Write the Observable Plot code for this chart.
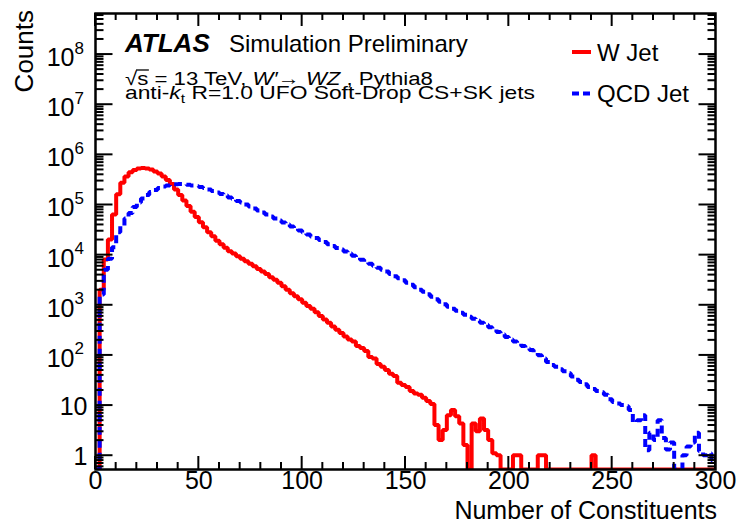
<!DOCTYPE html>
<html><head><meta charset="utf-8">
<script src="https://cdn.jsdelivr.net/npm/d3@7"></script>
<script src="https://cdn.jsdelivr.net/npm/@observablehq/plot@0.6"></script>
<style>
body{margin:0;background:#fff;}
#chart svg{font-family:"Liberation Sans",Arial,sans-serif;}
</style>
</head><body><div id="chart"></div>
<script>
// Histogram bins: width 2, from 0 to 300 (number of constituents)
const binWidth = 2;
const xStart = 0;
const xEnd = 300;

// W Jet counts per bin (bins [0,2), [2,4), ... [298,300))
const wJet = [
  0, 2000, 8000, 20000, 63000, 160000, 270000, 360000, 440000, 490000,
  525000, 537000, 525000, 500000, 457000, 417000, 363000, 309000, 257000, 200000,
  155000, 120000, 93000, 72000, 56000, 44000, 35000, 28000, 23400, 19000,
  16200, 13800, 11700, 10500, 9300, 8300, 7400, 6600, 5900, 5200,
  4600, 4100, 3550, 3160, 2750, 2350, 2000, 1700, 1480, 1290,
  1100, 950, 830, 710, 600, 510, 440, 370, 316, 275,
  234, 204, 185, 151, 138, 120, 91, 85, 66, 58,
  50, 42, 38, 28, 25, 23, 19, 17, 16, 14,
  12, 10.5, 4, 2, 3.2, 6.3, 8, 6, 4.3, 1.6,
  0, 4.3, 3, 5.4, 3.2, 2, 1.1, 1, 0, 0,
  0, 1, 1, 0, 0, 0, 0, 1, 1, 0,
  0, 0, 0, 0, 0, 0, 0, 0, 0, 0,
  1, 0, 0, 0, 0, 0, 0, 0, 0, 0,
  0, 0, 0, 0, 0, 0, 0, 0, 0, 0,
  0, 0, 0, 0, 0, 0, 0, 0, 0, 0
];

// QCD Jet counts per bin
const qcdJet = [
  0, 1600, 5000, 8300, 14000, 28000, 38000, 52500, 68000, 89000,
  110000, 132000, 155000, 178000, 195000, 214000, 229000, 240000, 248000, 254000,
  257000, 254000, 248000, 240000, 232000, 224000, 214000, 200000, 186000, 174000,
  162000, 151000, 138000, 129000, 117000, 110000, 100000, 91000, 83000, 76000,
  69000, 63000, 57500, 52500, 48000, 43600, 39800, 36300, 33100, 30200,
  27500, 25100, 22900, 21400, 19500, 17800, 16200, 14800, 13500, 12600,
  11500, 10500, 9500, 8700, 7900, 7200, 6600, 6000, 5500, 5000,
  4600, 4100, 3700, 3400, 3100, 2750, 2500, 2240, 2000, 1820,
  1620, 1450, 1290, 1150, 1020, 910, 830, 760, 690, 630,
  575, 525, 480, 436, 398, 355, 324, 288, 257, 229,
  204, 186, 170, 151, 135, 126, 112, 98, 85, 72,
  63, 58, 52, 47, 43, 37, 32, 29, 26, 23,
  21, 19, 18, 16, 13, 11.5, 10.7, 10, 9.5, 8,
  4.5, 5, 6.3, 1.25, 2.8, 2, 5, 2.2, 1.3, 1.8,
  0, 0, 1, 1.5, 1.8, 2.8, 1.2, 1, 1.1, 0.8
];

const seriesNames = ["W Jet", "QCD Jet"];
const xMajorTicks = [0, 50, 100, 150, 200, 250, 300];
const xMinorTicks = [10,20,30,40,60,70,80,90,110,120,130,140,160,170,180,190,210,220,230,240,260,270,280,290];
const yPlainTicks = [1, 10];
const yPlainLabels = ["1", "10"];
const yPowTicks = [1e2, 1e3, 1e4, 1e5, 1e6, 1e7, 1e8];
const yPowExps = ["2", "3", "4", "5", "6", "7", "8"];
const yDomain = [0.519, 6.44e8];
const xTitle = "Number of Constituents";
const yTitle = "Counts";

(function () {
function stepRows(arr) {
  const rows = arr.map((v, i) => ({x: xStart + i * binWidth, v}));
  rows.push({x: xEnd, v: arr[arr.length - 1]});
  return rows;
}
const wRows = stepRows(wJet);
const qRows = stepRows(qcdJet);
const yMajor = yPlainTicks.concat(yPowTicks);
const yMinor = [];
for (let e = -1; e <= 8; e++) for (let k = 2; k <= 9; k++) {
  const v = k * Math.pow(10, e);
  if (v > yDomain[0] && v < yDomain[1]) yMinor.push(v);
}
const W = 740, H = 525, mL = 95, mR = 25, mT = 13, mB = 56;
const fw = W - mL - mR;
const yOf = d => Math.max(d.v, yDomain[0]);
// inward tick lengths (17px major, 8px minor) expressed in x data units
const xPerPx = (xEnd - xStart) / fw;
const tickRows = yMajor.map(v => ({v, len: 17})).concat(yMinor.map(v => ({v, len: 8})));

const plot = Plot.plot({
  width: W, height: H,
  marginLeft: mL, marginRight: mR, marginTop: mT, marginBottom: mB,
  style: {fontFamily: "Liberation Sans, Arial, sans-serif", fontSize: "24px", background: "white", color: "black"},
  x: {domain: [xStart, xEnd], axis: null},
  y: {type: "log", domain: yDomain, axis: null},
  marks: [
    Plot.line(wRows, {x: "x", y: yOf, curve: "step-after", stroke: "#ff0000", strokeWidth: 4,
      strokeLinejoin: "miter", strokeLinecap: "butt", clip: true}),
    Plot.line(qRows, {x: "x", y: yOf, curve: "step-after", stroke: "#0000ff", strokeWidth: 4,
      strokeDasharray: "8,5", strokeLinejoin: "miter", strokeLinecap: "butt", clip: true}),
    Plot.link(tickRows, {x1: xStart, x2: d => xStart + d.len * xPerPx, y1: "v", y2: "v", stroke: "black", strokeWidth: 2}),
    Plot.link(tickRows, {x1: xEnd, x2: d => xEnd - d.len * xPerPx, y1: "v", y2: "v", stroke: "black", strokeWidth: 2}),
    Plot.frame({stroke: "black", strokeWidth: 2.5}),
    Plot.text(xMajorTicks, {x: d => d, text: d => String(d), frameAnchor: "bottom", dy: 19, fontSize: 25}),
    Plot.text(yPlainTicks, {y: d => d, text: (d, i) => yPlainLabels[i], frameAnchor: "left", textAnchor: "end", dx: -8, dy: 2, fontSize: 25}),
    Plot.text(yPowTicks, {y: d => d, text: () => "10", frameAnchor: "left", textAnchor: "end", dx: -21, dy: 4, fontSize: 25}),
    Plot.text(yPowTicks, {y: d => d, text: (d, i) => yPowExps[i], frameAnchor: "left", textAnchor: "start", dx: -21, dy: -6, fontSize: 17})
  ]
});
document.getElementById("chart").appendChild(plot);

// x ticks (bottom & top, inward), positioned with Plot's x scale
const svg = d3.select(plot);
const fTop = mT, fBottom = H - mB;
let xPix = null;
try {
  const xs = plot.scale("x");
  if (xs && typeof xs.apply === "function" && Number.isFinite(xs.apply(50))) xPix = v => xs.apply(v);
} catch (e) {}
if (!xPix) xPix = d3.scaleLinear([xStart, xEnd], [mL, W - mR]);
const tg = svg.append("g");
function seg(x1, y1, x2, y2) {
  tg.append("line").attr("x1", x1).attr("y1", y1).attr("x2", x2).attr("y2", y2)
    .attr("stroke", "#000000").attr("stroke-width", 2);
}
function vTick(v, len) {
  const x = xPix(v);
  seg(x, fBottom, x, fBottom - len);
  seg(x, fTop, x, fTop + len);
}
xMajorTicks.forEach(v => vTick(v, 13));
xMinorTicks.forEach(v => vTick(v, 7));

// ---- annotations ----
const g = svg.append("g").attr("fill", "black").attr("text-anchor", "start")
  .style("font-family", "Liberation Sans, Arial, sans-serif");

g.append("text").attr("transform", "translate(33,10) rotate(-90)")
  .attr("text-anchor", "end").attr("font-size", 26).text(yTitle);
g.append("text").attr("x", 717).attr("y", 519)
  .attr("text-anchor", "end").attr("font-size", 25).text(xTitle);

g.append("text").attr("x", 125).attr("y", 52).attr("font-size", 26)
  .attr("font-weight", "bold").attr("font-style", "italic").text("ATLAS");
g.append("text").attr("x", 229).attr("y", 52).attr("font-size", 24).text("Simulation Preliminary");

const g2 = g.append("g");
const l2 = g2.append("text").attr("x", 0).attr("y", 0).attr("font-size", 19);
l2.append("tspan").text("\u221A");
l2.append("tspan").text("s");
l2.append("tspan").text(" = 13 TeV, ");
l2.append("tspan").attr("font-style", "italic").text("W\u2032");
l2.append("tspan").text("\u2192 ");
l2.append("tspan").attr("font-style", "italic").text("WZ");
l2.append("tspan").text(" , Pythia8");
let sx2 = 1;
try {
  const n = l2.node();
  const w = n.getComputedTextLength();
  if (w > 0) sx2 = 308 / w;
  const a = n.getSubStringLength(0, 1), b = n.getSubStringLength(1, 1);
  g2.append("line").attr("x1", a - 1).attr("x2", a + b + 0.5).attr("y1", -15).attr("y2", -15)
    .attr("stroke", "black").attr("stroke-width", 1.3);
} catch (e) {}
g2.attr("transform", `translate(125,85) scale(${sx2},1)`);

const g3 = g.append("g");
const l3 = g3.append("text").attr("x", 0).attr("y", 0).attr("font-size", 19);
l3.append("tspan").text("anti-");
l3.append("tspan").attr("font-style", "italic").text("k");
l3.append("tspan").attr("font-size", 13).attr("dy", 4).text("t");
l3.append("tspan").attr("dy", -4).text(" R=1.0 UFO Soft-Drop CS+SK jets");
let sx3 = 1;
try {
  const w = l3.node().getComputedTextLength();
  if (w > 0) sx3 = 410 / w;
} catch (e) {}
g3.attr("transform", `translate(125,99) scale(${sx3},1)`);

// legend
g.append("line").attr("x1", 572).attr("x2", 591).attr("y1", 52).attr("y2", 52)
  .attr("stroke", "#ff0000").attr("stroke-width", 4);
g.append("text").attr("x", 597).attr("y", 61).attr("font-size", 24).text(seriesNames[0]);
g.append("line").attr("x1", 572).attr("x2", 591).attr("y1", 93.5).attr("y2", 93.5)
  .attr("stroke", "#0000ff").attr("stroke-width", 4).attr("stroke-dasharray", "7,4");
g.append("text").attr("x", 597).attr("y", 102).attr("font-size", 24).text(seriesNames[1]);
})();
</script>
</body></html>
